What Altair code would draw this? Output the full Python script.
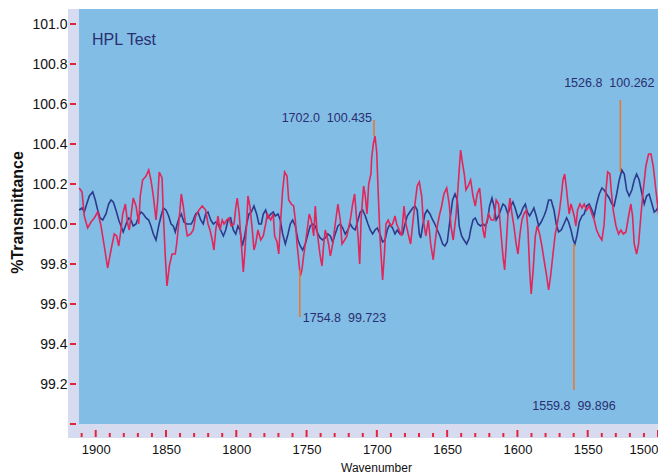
import altair as alt
import pandas as pd

# ---------------- data ----------------
red_wn = [
    1911.7, 1909.7, 1908.1, 1905.7, 1903.3, 1901.0, 1898.6, 1896.2, 1893.9, 1891.5,
    1889.1, 1886.8, 1885.1, 1883.6, 1882.0, 1880.8, 1878.9, 1877.2, 1876.1, 1874.9,
    1873.3, 1871.3, 1869.4, 1868.3, 1866.6, 1864.2, 1862.3, 1860.7, 1859.0, 1857.1,
    1855.9, 1854.8, 1852.8, 1851.9, 1850.5, 1849.3, 1847.6, 1845.7, 1843.4, 1842.4,
    1840.7, 1839.1, 1837.7, 1836.0, 1834.8, 1832.4, 1830.6, 1828.9, 1826.5, 1824.2,
    1821.8, 1820.1, 1818.7, 1817.1, 1815.9, 1814.6, 1813.0, 1811.6, 1810.0, 1808.7,
    1806.8, 1805.2, 1803.6, 1801.6, 1800.2, 1799.3, 1797.9, 1796.4, 1795.0, 1794.0,
    1792.6, 1791.7, 1790.3, 1788.6, 1787.4, 1786.2, 1784.6, 1782.6, 1780.8, 1779.1,
    1777.9, 1775.5, 1773.7, 1772.7, 1771.0, 1769.8, 1768.7, 1767.0, 1765.6, 1763.9,
    1762.7, 1760.9, 1759.2, 1758.0, 1756.8, 1755.6, 1754.5, 1753.3, 1752.1, 1750.9,
    1749.0, 1748.1, 1746.7, 1744.9, 1743.8, 1742.6, 1741.4, 1740.3, 1739.0, 1737.8,
    1736.7, 1735.5, 1734.3, 1733.1, 1731.4, 1729.6, 1727.7, 1726.0, 1724.8, 1722.9,
    1721.3, 1718.9, 1717.2, 1715.8, 1714.9, 1713.4, 1712.2, 1711.1, 1709.4, 1708.2,
    1707.0, 1705.8, 1704.2, 1703.7, 1702.5, 1701.3, 1700.1, 1699.0, 1697.8, 1695.9,
    1694.7, 1693.5, 1691.9, 1690.2, 1688.8, 1687.1, 1685.9, 1684.1, 1682.4, 1680.7,
    1679.3, 1677.7, 1676.0, 1674.5, 1672.9, 1671.3, 1669.8, 1668.1, 1667.0, 1665.1,
    1663.4, 1661.7, 1659.9, 1658.7, 1657.5, 1655.6, 1653.9, 1652.3, 1650.3, 1648.5,
    1647.3, 1645.7, 1643.7, 1642.1, 1640.4, 1639.0, 1637.8, 1636.6, 1635.0, 1633.3,
    1631.6, 1630.0, 1628.6, 1626.9, 1625.7, 1624.5, 1623.3, 1622.2, 1620.5, 1618.6,
    1616.7, 1615.1, 1613.4, 1611.9, 1610.3, 1609.1, 1608.0, 1606.8, 1605.3, 1603.9,
    1602.5, 1600.9, 1599.6, 1598.2, 1596.8, 1595.4, 1593.7, 1592.5, 1591.3, 1590.2,
    1588.8, 1587.3, 1585.9, 1584.2, 1582.6, 1580.6, 1579.2, 1577.8, 1576.4, 1574.7,
    1573.1, 1571.7, 1570.0, 1568.8, 1567.6, 1566.4, 1565.0, 1564.3, 1563.2, 1561.9,
    1560.7, 1559.6, 1558.4, 1557.2, 1555.5, 1554.1, 1552.5, 1550.8, 1548.9, 1547.0,
    1545.4, 1543.7, 1541.8, 1539.9, 1538.3, 1537.0, 1535.8, 1534.2, 1533.3, 1531.9,
    1529.9, 1528.0, 1526.4, 1524.7, 1522.8, 1520.9, 1519.3, 1518.1, 1516.9, 1515.2,
    1513.8, 1512.2, 1510.5, 1508.6, 1506.7, 1505.0, 1503.4, 1501.5, 1499.6, 1497.9,
    1496.3, 1494.9,
]
red_t = [
    100.18, 100.16, 100.04, 99.98, 100.01, 100.03, 100.06, 99.99, 99.89, 99.78,
    99.87, 99.95, 99.94, 99.89, 99.97, 100.05, 100.10, 100.00, 99.97, 100.04,
    100.13, 100.09, 100.00, 100.14, 100.22, 100.24, 100.27, 100.22, 100.14, 100.02,
    100.12, 100.26, 100.23, 100.05, 99.84, 99.69, 99.79, 99.85, 99.85, 99.90,
    100.02, 100.15, 100.09, 99.99, 99.94, 99.95, 99.97, 100.04, 100.07, 100.09,
    100.07, 100.00, 99.97, 99.92, 99.87, 99.97, 100.04, 99.97, 100.02, 100.00,
    100.02, 100.03, 99.99, 100.00, 100.09, 100.13, 100.05, 99.90, 99.76, 99.85,
    100.00, 100.14, 100.09, 99.97, 99.87, 99.90, 99.97, 99.92, 99.94, 100.00,
    100.05, 100.02, 100.05, 99.94, 99.91, 99.85, 99.99, 100.17, 100.26, 100.24,
    100.12, 100.10, 100.09, 100.02, 99.90, 99.82, 99.74, 99.77, 99.84, 99.90,
    100.00, 100.05, 100.02, 99.94, 100.09, 99.97, 99.90, 99.84, 99.79, 99.90,
    99.97, 99.94, 99.90, 99.84, 99.90, 100.00, 100.10, 100.02, 99.90, 99.92,
    99.94, 100.02, 100.10, 100.15, 100.07, 99.94, 99.80, 100.04, 100.19, 100.14,
    100.05, 100.20, 100.25, 100.33, 100.40, 100.44, 100.36, 100.15, 99.94, 99.72,
    99.84, 100.00, 100.02, 99.99, 100.00, 100.04, 100.00, 99.97, 99.94, 100.09,
    100.00, 99.95, 99.90, 100.00, 100.10, 100.19, 100.21, 100.14, 100.02, 99.94,
    100.02, 99.90, 99.82, 99.90, 99.97, 100.04, 100.09, 100.15, 100.18, 100.10,
    99.99, 99.92, 100.04, 100.20, 100.37, 100.30, 100.25, 100.17, 100.19, 100.22,
    100.14, 100.09, 100.15, 100.18, 100.09, 99.97, 99.93, 100.00, 100.05, 100.02,
    100.02, 100.12, 100.10, 99.97, 99.84, 99.77, 99.89, 100.04, 100.13, 100.05,
    99.99, 99.90, 99.85, 99.95, 100.02, 100.05, 100.07, 99.97, 99.77, 99.65,
    99.77, 99.94, 99.99, 99.95, 99.89, 99.80, 99.74, 99.67, 99.74, 99.85,
    99.95, 100.00, 100.07, 100.14, 100.22, 100.25, 100.17, 100.12, 100.05, 100.10,
    100.07, 100.04, 99.99, 100.07, 100.10, 100.08, 100.10, 100.07, 100.09, 100.05,
    100.02, 99.97, 99.94, 99.92, 100.00, 100.17, 100.26, 100.25, 100.17, 100.07,
    99.99, 99.95, 99.97, 99.95, 99.96, 100.04, 100.10, 100.04, 99.90, 99.85,
    99.90, 100.04, 100.17, 100.29, 100.35, 100.35, 100.29, 100.17, 100.05, 99.99,
    99.95, 100.02,
]
navy_wn = [
    1911.7, 1909.7, 1908.1, 1906.4, 1904.5, 1902.1, 1900.3, 1898.6, 1896.9, 1895.0,
    1892.7, 1890.8, 1889.1, 1887.5, 1885.6, 1883.6, 1882.0, 1880.4, 1878.4, 1876.5,
    1874.9, 1873.3, 1871.3, 1869.4, 1867.8, 1866.1, 1864.2, 1862.3, 1860.7, 1859.0,
    1857.1, 1855.2, 1853.5, 1851.9, 1850.0, 1848.1, 1846.4, 1844.8, 1843.4, 1842.4,
    1840.7, 1839.1, 1837.2, 1835.3, 1833.6, 1832.0, 1830.6, 1828.9, 1827.2, 1825.3,
    1823.5, 1821.8, 1820.1, 1818.2, 1816.3, 1814.6, 1813.0, 1811.1, 1809.2, 1807.5,
    1805.9, 1804.0, 1802.1, 1800.4, 1798.8, 1797.4, 1795.7, 1794.0, 1792.6, 1791.0,
    1789.3, 1787.4, 1785.5, 1783.9, 1782.2, 1780.8, 1779.1, 1777.5, 1775.5, 1773.7,
    1772.3, 1770.3, 1768.7, 1767.0, 1765.1, 1763.2, 1761.6, 1759.9, 1758.0, 1756.1,
    1754.5, 1752.8, 1750.9, 1749.0, 1747.4, 1745.7, 1743.8, 1741.9, 1740.3, 1738.5,
    1736.7, 1734.8, 1733.1, 1731.4, 1729.6, 1727.7, 1726.0, 1724.3, 1722.5, 1720.6,
    1718.9, 1717.2, 1715.4, 1713.4, 1711.8, 1710.1, 1708.2, 1706.3, 1704.7, 1703.0,
    1701.3, 1699.7, 1697.8, 1695.9, 1694.2, 1692.6, 1690.7, 1688.8, 1687.1, 1685.5,
    1683.6, 1681.6, 1680.0, 1678.4, 1676.5, 1674.5, 1672.9, 1671.3, 1669.8, 1668.8,
    1667.4, 1665.8, 1664.2, 1662.2, 1660.3, 1658.7, 1657.0, 1655.1, 1653.2, 1651.6,
    1649.9, 1648.0, 1646.1, 1644.4, 1642.8, 1641.4, 1639.7, 1638.0, 1636.1, 1634.3,
    1633.3, 1631.6, 1630.0, 1628.1, 1626.2, 1624.5, 1622.9, 1621.5, 1619.8, 1618.1,
    1616.7, 1615.1, 1613.4, 1611.9, 1610.3, 1608.7, 1606.8, 1604.8, 1603.2, 1601.6,
    1599.6, 1597.7, 1596.1, 1594.4, 1593.0, 1591.3, 1589.7, 1588.3, 1586.6, 1584.9,
    1583.1, 1581.1, 1579.5, 1577.8, 1576.0, 1574.0, 1572.4, 1570.7, 1568.8, 1566.9,
    1565.0, 1563.6, 1561.9, 1560.3, 1559.1, 1557.7, 1556.0, 1554.1, 1552.5, 1550.8,
    1548.9, 1547.0, 1545.4, 1543.7, 1541.8, 1539.9, 1538.3, 1536.6, 1534.7, 1532.8,
    1531.2, 1529.4, 1527.6, 1525.7, 1524.0, 1522.3, 1520.5, 1518.6, 1516.9, 1515.2,
    1513.4, 1511.4, 1509.8, 1508.1, 1506.3, 1504.3, 1502.7, 1501.0, 1499.1, 1497.2,
    1495.3,
]
navy_t = [
    100.07, 100.08, 100.06, 100.10, 100.14, 100.16, 100.12, 100.07, 100.03, 100.02,
    100.05, 100.10, 100.12, 100.11, 100.07, 100.02, 99.99, 99.96, 100.00, 100.03,
    100.02, 99.99, 100.00, 100.04, 100.06, 100.05, 100.03, 100.02, 99.99, 99.95,
    99.92, 99.99, 100.04, 100.08, 100.07, 100.04, 100.00, 99.99, 99.96, 99.99,
    100.03, 100.05, 100.01, 100.00, 100.00, 100.00, 100.02, 100.05, 100.06, 100.02,
    100.00, 100.05, 100.06, 100.02, 100.00, 100.01, 100.00, 99.97, 99.94, 99.97,
    100.02, 100.03, 99.97, 99.95, 99.99, 99.97, 99.89, 99.94, 100.00, 100.05,
    100.06, 100.09, 100.05, 100.00, 100.00, 100.05, 100.07, 100.03, 100.05, 100.06,
    100.04, 100.05, 100.02, 99.95, 99.90, 99.95, 100.00, 100.02, 99.99, 99.92,
    99.89, 99.87, 99.90, 99.95, 99.99, 100.00, 99.99, 99.95, 99.93, 99.92,
    99.93, 99.95, 99.94, 99.91, 99.95, 99.99, 100.00, 99.98, 99.95, 99.97,
    100.00, 99.98, 99.97, 100.02, 100.06, 100.07, 100.04, 100.00, 99.97, 99.95,
    99.97, 99.98, 99.95, 99.91, 99.92, 99.97, 100.00, 99.98, 99.95, 99.97,
    99.95, 99.95, 100.00, 100.04, 100.06, 100.08, 100.09, 100.07, 99.95, 99.93,
    99.99, 100.05, 100.07, 100.05, 100.02, 100.00, 99.97, 99.94, 99.90, 99.89,
    99.91, 100.02, 100.12, 100.15, 100.12, 99.99, 99.94, 99.92, 99.90, 99.93,
    99.97, 100.02, 100.03, 100.00, 99.99, 100.00, 99.99, 100.01, 100.09, 100.13,
    100.09, 100.02, 100.04, 100.07, 100.10, 100.09, 100.05, 100.09, 100.11, 100.08,
    100.03, 100.05, 100.08, 100.10, 100.06, 100.04, 100.06, 100.08, 100.04, 99.99,
    100.01, 100.04, 100.07, 100.12, 100.12, 100.07, 100.00, 99.96, 99.97, 100.00,
    100.03, 100.01, 99.97, 99.92, 99.90, 99.94, 100.01, 100.04, 100.05, 100.09,
    100.10, 100.07, 100.04, 100.10, 100.15, 100.18, 100.17, 100.15, 100.13, 100.10,
    100.09, 100.15, 100.22, 100.27, 100.25, 100.17, 100.14, 100.17, 100.22, 100.25,
    100.22, 100.15, 100.10, 100.14, 100.15, 100.10, 100.06, 100.07, 100.10, 100.10,
    100.05,
]

# axis ticks / labels
y_tick_values = [99.0, 99.2, 99.4, 99.6, 99.8, 100.0, 100.2, 100.4, 100.6, 100.8, 101.0]
x_major_values = [1900, 1850, 1800, 1750, 1700, 1650, 1600, 1550, 1500]
x_minor_values = [1910, 1890, 1880, 1870, 1860, 1840, 1830, 1820, 1810, 1790, 1780,
                  1770, 1760, 1740, 1730, 1720, 1710, 1690, 1680, 1670, 1660, 1640,
                  1630, 1620, 1610, 1590, 1580, 1570, 1560, 1540, 1530, 1520, 1510]

# peak annotations
ann_wn = [1702.0, 1754.8, 1559.8, 1526.8]
ann_from = [100.44, 99.77, 99.90, 100.26]
ann_to = [100.52, 99.535, 99.17, 100.62]
ann_label = ["1702.0\u00a0\u00a0100.435", "1754.8\u00a0\u00a099.723",
             "1559.8\u00a0\u00a099.896", "1526.8\u00a0\u00a0100.262"]
ann_label_t = [100.53, 99.53, 99.09, 100.705]

chart_title = "HPL Test"

# ---------------- styling ----------------
W, H = 590, 429
BLUE_BG = "#82bde6"
LAVENDER = "#d7dbef"
RED = "#e3265a"
NAVY = "#2d3a8c"
TICK = "#e3243c"
ORANGE = "#ef7428"
TEXT_NAVY = "#2a2f70"
SANS = "Liberation Sans, Arial, sans-serif"
# label placement (align, dx) of each annotation
ann_style = [("right", -2), ("left", 3), ("center", 0), ("center", -11)]

xs = alt.Scale(domain=[1500.0, 1919.7], reverse=True, nice=False, zero=False)
ys = alt.Scale(domain=[98.93, 101.075], nice=False, zero=False)

red_df = pd.DataFrame({"wn": red_wn, "t": red_t})
navy_df = pd.DataFrame({"wn": navy_wn, "t": navy_t})
ann_df = pd.DataFrame({"wn": ann_wn, "t1": ann_from, "t2": ann_to,
                       "label": ann_label, "lt": ann_label_t,
                       "k": list(range(len(ann_wn)))})

x_axis = alt.Axis(values=x_major_values, ticks=False, domain=False, grid=False,
                  labelFont=SANS, labelFontSize=13, labelColor="#111111",
                  labelPadding=5, format="d", labelFlush=False, labelOverlap=False,
                  labelAlign=alt.ExprRef(expr="datum.value <= 1500 ? 'right' : 'center'"),
                  title="Wavenumber", titleFont=SANS, titleFontSize=12,
                  titleFontWeight="normal", titleColor="#111111",
                  titleX=308, titleY=29, titleBaseline="middle")
y_axis = alt.Axis(values=y_tick_values, ticks=False, domain=False, grid=False,
                  labelFont=SANS, labelFontSize=14, labelColor="#111111",
                  labelPadding=1, labelFlush=False, labelOverlap=False,
                  labelExpr="datum.value < 99.1 ? '' : format(datum.value, '.1f')",
                  title="%Transmittance", titleFont=SANS, titleFontSize=16,
                  titleFontWeight="bold", titleColor="#111111",
                  titleX=-51, titleY=203, titleBaseline="middle", titleAngle=-90)


def X(field):
    return alt.X(field, scale=xs, axis=x_axis)


def Y(field):
    return alt.Y(field, scale=ys, axis=y_axis)


blue_bg = alt.Chart(alt.Data(values=[{}])).mark_rect(color=BLUE_BG).encode(
    x=alt.value(11), x2=alt.value(W), y=alt.value(0), y2=alt.value(415))

navy_line = alt.Chart(navy_df).mark_line(color=NAVY, strokeWidth=1.6, clip=True).encode(
    x=X("wn:Q"), y=Y("t:Q"), order="wn:Q")

red_line = alt.Chart(red_df).mark_line(color=RED, strokeWidth=1.6, clip=True).encode(
    x=X("wn:Q"), y=Y("t:Q"), order="wn:Q")

ann_rules = alt.Chart(ann_df).mark_rule(color=ORANGE, strokeWidth=1.5).encode(
    x=X("wn:Q"), y=Y("t1:Q"), y2="t2:Q")

ann_text_layers = []
for k, (al, dx) in enumerate(ann_style):
    ann_text_layers.append(
        alt.Chart(ann_df).transform_filter(alt.datum.k == k).mark_text(
            align=al, baseline="middle", dx=dx, font=SANS, fontSize=12.5,
            color=TEXT_NAVY).encode(
            x=X("wn:Q"), y=Y("lt:Q"), text="label:N"))

title_text = alt.Chart(alt.Data(values=[{"label": chart_title}])).mark_text(
    align="left", baseline="middle", font=SANS, fontSize=16, color=TEXT_NAVY).encode(
    x=alt.value(24), y=alt.value(31), text="label:N")

ytick_df = pd.DataFrame({"t": y_tick_values})
y_ticks = alt.Chart(ytick_df).mark_rule(color=TICK, strokeWidth=2).encode(
    y=Y("t:Q"), x=alt.value(2), x2=alt.value(8))

xmaj_df = pd.DataFrame({"wn": x_major_values})
x_major_ticks = alt.Chart(xmaj_df).mark_rule(color=TICK, strokeWidth=2).encode(
    x=X("wn:Q"), y=alt.value(H - 1), y2=alt.value(H - 8))

xmin_df = pd.DataFrame({"wn": x_minor_values})
x_minor_ticks = alt.Chart(xmin_df).mark_rule(color=TICK, strokeWidth=2).encode(
    x=X("wn:Q"), y=alt.value(H - 1), y2=alt.value(H - 5))

chart = alt.layer(
    blue_bg, navy_line, red_line, ann_rules, *ann_text_layers, title_text,
    y_ticks, x_major_ticks, x_minor_ticks,
).properties(
    width=W, height=H,
    autosize=alt.AutoSizeParams(type="none"),
    padding={"left": 60, "top": 1, "right": 0, "bottom": 37},
    background="white",
).configure_view(fill=LAVENDER, stroke=None)

chart.save("out.html", embed_options={"renderer": "svg", "actions": False})
